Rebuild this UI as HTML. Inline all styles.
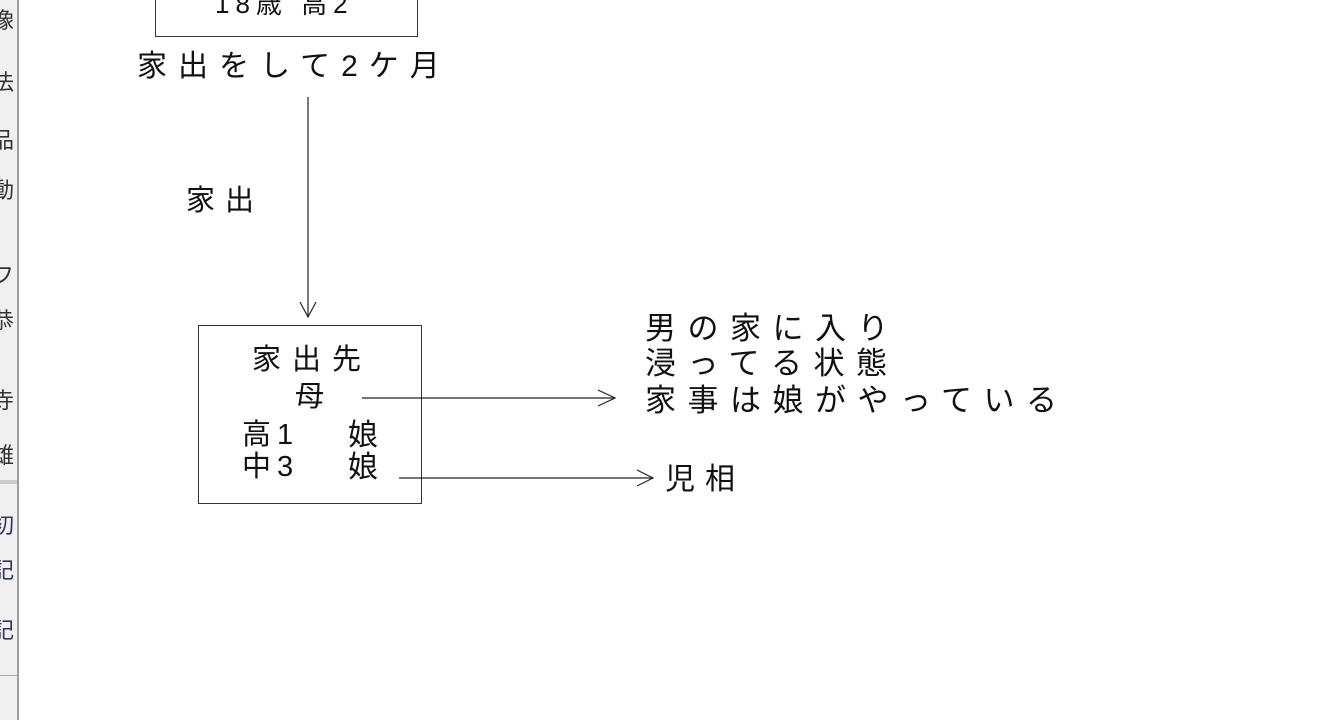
<!DOCTYPE html>
<html><head><meta charset="utf-8"><style>
body{margin:0;width:1339px;height:720px;background:#fff;position:relative;overflow:hidden;font-family:"Liberation Sans","Noto Sans CJK JP",sans-serif;color:#111}
.t{position:absolute;white-space:nowrap;line-height:1}
</style></head><body>
<div style="position:absolute;left:0;top:0;width:17px;height:720px;background:#f0f0f0;border-right:2px solid #a0a0a0;overflow:hidden">
<div class="t" style="left:-8px;top:10px;font-size:22px;color:#333">像</div>
<div class="t" style="left:-8px;top:72px;font-size:22px;color:#333">法</div>
<div class="t" style="left:-8px;top:130px;font-size:22px;color:#333">品</div>
<div class="t" style="left:-8px;top:180px;font-size:22px;color:#333">動</div>
<div class="t" style="left:-8px;top:265px;font-size:22px;color:#333">フ</div>
<div class="t" style="left:-8px;top:310px;font-size:22px;color:#333">恭</div>
<div class="t" style="left:-8px;top:390px;font-size:22px;color:#333">寺</div>
<div class="t" style="left:-8px;top:445px;font-size:22px;color:#333">雄</div>
<div class="t" style="left:-8px;top:515px;font-size:22px;color:#336">初</div>
<div class="t" style="left:-8px;top:560px;font-size:22px;color:#336">記</div>
<div class="t" style="left:-8px;top:620px;font-size:22px;color:#336">記</div>
</div>
<div style="position:absolute;left:0;top:480px;width:17px;height:4px;background:#ccc"></div>
<div style="position:absolute;left:0;top:675px;width:17px;height:1px;background:#aaa"></div>
<div style="position:absolute;left:155px;top:-5px;width:261px;height:40px;border:1px solid #333"></div>
<div class="t" style="left:215px;top:-9px;font-size:26px;letter-spacing:6px">18歳 高2</div>
<div class="t" style="left:137px;top:52px;font-size:30px;letter-spacing:11px">家出をして2ケ月</div>
<div class="t" style="left:186px;top:187px;font-size:29px;letter-spacing:10px">家出</div>
<div style="position:absolute;left:198px;top:325px;width:222px;height:177px;border:1px solid #333"></div>
<div class="t" style="left:252px;top:346px;font-size:29px;letter-spacing:11px">家出先</div>
<div class="t" style="left:295px;top:383px;font-size:29px">母</div>
<div class="t" style="left:242px;top:421px;font-size:29px;letter-spacing:6px">高1</div>
<div class="t" style="left:348px;top:421px;font-size:30px">娘</div>
<div class="t" style="left:242px;top:453px;font-size:29px;letter-spacing:6px">中3</div>
<div class="t" style="left:348px;top:453px;font-size:30px">娘</div>
<div class="t" style="left:645px;top:313px;font-size:31px;letter-spacing:11.5px">男の家に入り</div>
<div class="t" style="left:645px;top:348px;font-size:31px;letter-spacing:11.5px">浸ってる状態</div>
<div class="t" style="left:645px;top:385px;font-size:31px;letter-spacing:11.5px">家事は娘がやっている</div>
<div class="t" style="left:665px;top:465px;font-size:30px;letter-spacing:10px">児相</div>
<svg width="1339" height="720" style="position:absolute;left:0;top:0" fill="none" stroke="#222" stroke-width="1.2">
<line x1="308" y1="97" x2="308" y2="317"/><polyline points="300,302 308,317 316,302"/>
<line x1="362" y1="398" x2="615" y2="398"/><polyline points="598,390 615,398 598,406"/>
<line x1="399" y1="478" x2="653" y2="478"/><polyline points="637,470 653,478 637,486"/>
</svg>
</body></html>
